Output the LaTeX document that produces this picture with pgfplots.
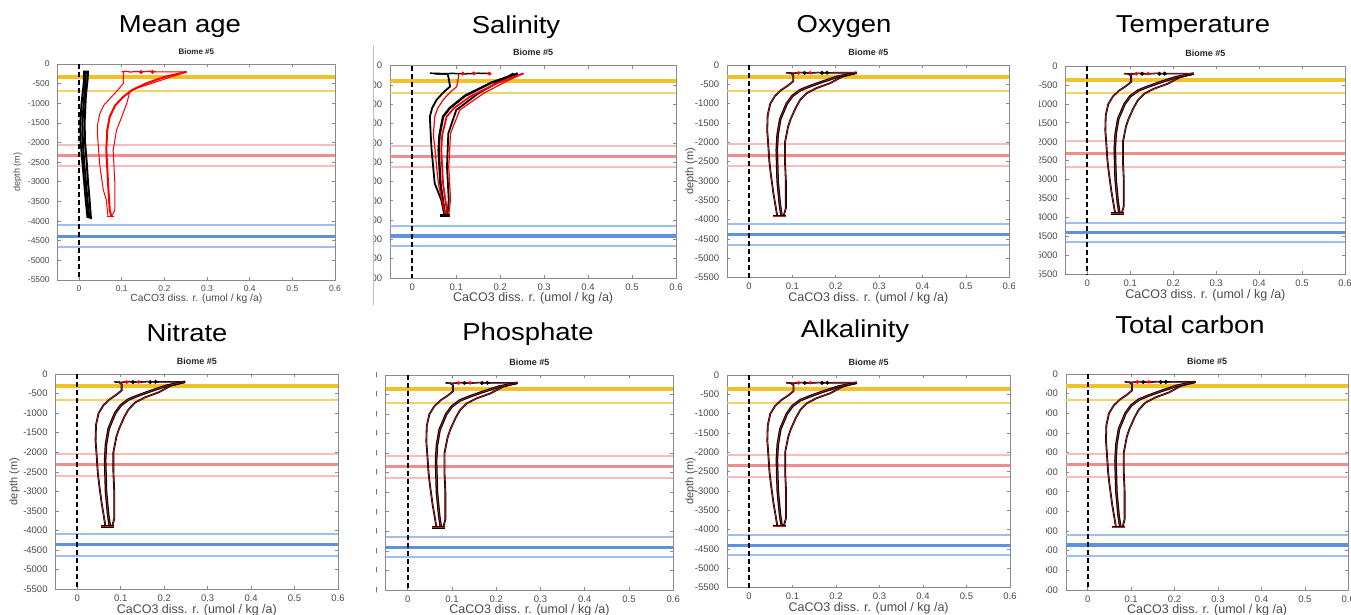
\documentclass[border=0pt]{standalone}
\usepackage{fontspec}
\setmainfont{Liberation Sans}
\newfontfamily\titlefont[FakeStretch=1.12]{Liberation Sans}
\usepackage{pgfplots}
\usepackage{pgfplotstable}
\pgfplotsset{compat=1.18}

\definecolor{axgray}{HTML}{8A8A8A}
\definecolor{txtgray}{HTML}{4A4A4A}
\definecolor{ylw}{HTML}{F0C228}
\definecolor{ylwthin}{HTML}{F3D466}
\definecolor{redthick}{HTML}{F08C8C}
\definecolor{redthin}{HTML}{F7BDBD}
\definecolor{bluthick}{HTML}{5E92DE}
\definecolor{bluthin}{HTML}{9DBEEE}
\definecolor{profred}{HTML}{C81E1E}

% ---- common CaCO3 dissolution profiles (x: rate, y: depth) ----
\pgfplotstableread{
x y
0.095 -200
0.102 -260
0.102 -420
0.090 -530
0.074 -650
0.060 -800
0.049 -1000
0.043 -1300
0.042 -1700
0.044 -2000
0.047 -2500
0.050 -2800
0.056 -3300
0.062 -3700
0.065 -3900
}\profL
\pgfplotstableread{
x y
0.248 -200
0.205 -300
0.170 -430
0.140 -550
0.118 -650
0.100 -800
0.087 -1000
0.072 -1400
0.066 -1800
0.064 -2200
0.066 -3000
0.071 -3600
0.075 -3900
}\profM
\pgfplotstableread{
x y
0.248 -200
0.215 -300
0.187 -470
0.155 -600
0.133 -730
0.118 -900
0.108 -1100
0.096 -1400
0.090 -1600
0.083 -2000
0.083 -2500
0.085 -3000
0.085 -3700
0.080 -3900
}\profR
\pgfplotstableread{
x y
0.085 -200
0.100 -215
0.120 -195
0.140 -210
0.160 -195
0.180 -205
0.200 -200
0.248 -200
}\profTop
\pgfplotstableread{
x y
0.055 -3900
0.085 -3900
}\profBot

% ---- mean age ----
\pgfplotstableread{
x y
0.012 -170
0.011 -500
0.006 -1000
0.003 -1500
0.004 -2000
0.008 -2500
0.012 -3000
0.016 -3500
0.020 -3920
}\ageA
\pgfplotstableread{
x y
0.016 -170
0.015 -500
0.011 -1000
0.008 -1500
0.009 -2000
0.012 -2500
0.016 -3000
0.020 -3500
0.024 -3930
}\ageB
\pgfplotstableread{
x y
0.021 -170
0.020 -400
0.016 -800
0.013 -1500
0.014 -2000
0.018 -2500
0.021 -3000
0.025 -3500
0.028 -3950
}\ageC
\pgfplotstableread{
x y
0.105 -200
0.104 -300
0.104 -490
0.092 -650
0.075 -850
0.058 -1050
0.049 -1256
0.044 -1500
0.043 -1765
0.046 -2200
0.049 -2615
0.057 -3208
0.064 -3463
0.068 -3888
}\ageRL
\pgfplotstableread{
x y
0.252 -200
0.200 -330
0.158 -492
0.125 -660
0.104 -832
0.085 -1050
0.072 -1341
0.066 -1700
0.064 -2190
0.068 -3038
0.072 -3718
0.076 -3888
}\ageRM
\pgfplotstableread{
x y
0.252 -200
0.182 -450
0.135 -620
0.119 -705
0.112 -1001
0.100 -1350
0.088 -1680
0.080 -2190
0.084 -3038
0.084 -3718
0.076 -3888
}\ageRR
\pgfplotstableread{
x y
0.100 -200
0.110 -185
0.120 -205
0.135 -190
0.150 -200
0.165 -185
0.180 -200
0.252 -200
}\ageTop

% ---- salinity ----
\pgfplotstableread{
x y
0.050 -200
0.080 -215
0.082 -280
0.086 -540
0.070 -700
0.055 -889
0.045 -1100
0.040 -1321
0.042 -1800
0.044 -2184
0.051 -3047
0.066 -3479
0.073 -3868
}\salBL
\pgfplotstableread{
x y
0.105 -200
0.105 -300
0.101 -544
0.085 -700
0.070 -889
0.058 -1100
0.051 -1321
0.048 -1800
0.052 -2200
0.056 -2700
0.060 -3100
0.068 -3500
0.075 -3870
}\salRL
\pgfplotstableread{
x y
0.240 -200
0.180 -440
0.120 -780
0.085 -1100
0.070 -1321
0.062 -1800
0.060 -2184
0.064 -3047
0.072 -3690
0.075 -3880
}\salBM
\pgfplotstableread{
x y
0.253 -200
0.192 -456
0.131 -803
0.095 -1100
0.078 -1321
0.068 -1800
0.066 -2184
0.070 -3047
0.078 -3690
0.078 -3880
}\salRM
\pgfplotstableread{
x y
0.230 -200
0.200 -400
0.150 -720
0.100 -1149
0.082 -1753
0.079 -2616
0.083 -3479
0.080 -3868
}\salBR
\pgfplotstableread{
x y
0.253 -200
0.215 -400
0.162 -717
0.108 -1149
0.087 -1753
0.083 -2616
0.087 -3479
0.083 -3868
}\salRR

% horizontal biome boundaries and the zero line
\newcommand\biomelines[8]{%
  \addplot[ylwthin, line width=2pt] coordinates {(-0.05,#2) (0.6,#2)};
  \addplot[ylw, line width=4pt] coordinates {(-0.05,#1) (0.6,#1)};
  \addplot[redthin, line width=2pt] coordinates {(-0.05,#3) (0.6,#3)};
  \addplot[redthick, line width=3pt] coordinates {(-0.05,#4) (0.6,#4)};
  \addplot[redthin, line width=2pt] coordinates {(-0.05,#5) (0.6,#5)};
  \addplot[bluthin, line width=2pt] coordinates {(-0.05,#6) (0.6,#6)};
  \addplot[bluthick, line width=3.5pt] coordinates {(-0.05,#7) (0.6,#7)};
  \addplot[bluthin, line width=2pt] coordinates {(-0.05,#8) (0.6,#8)};
  \addplot[black, line width=2pt, dash pattern=on 5pt off 3pt] coordinates {(0,0) (0,-5500)};
}
% dark profile with red core
\newcommand\prof[2]{%
  \addplot[black, line width=#2] table {#1};
  \addplot[profred, line width=0.6pt] table {#1};
}
\newcommand\commonprofiles{%
  \prof{\profL}{1.8pt}
  \prof{\profR}{1.8pt}
  \prof{\profM}{2.6pt}
  \prof{\profTop}{1.6pt}
  \prof{\profBot}{2.6pt}
  \addplot[only marks, mark=*, mark size=1.6pt, red] coordinates {(0.114,-205) (0.141,-200)};
  \addplot[only marks, mark=*, mark size=1.8pt, black] coordinates {(0.128,-205) (0.168,-205) (0.180,-200)};
}

\pgfplotsset{
  biome/.style={
    scale only axis,
    xmin=-0.05, xmax=0.6, ymin=-5500, ymax=0,
    xtick={0,0.1,0.2,0.3,0.4,0.5,0.6},
    xticklabels={0,0.1,0.2,0.3,0.4,0.5,0.6},
    ytick={-5500,-5000,-4500,-4000,-3500,-3000,-2500,-2000,-1500,-1000,-500,0},
    yticklabels={-5500,-5000,-4500,-4000,-3500,-3000,-2500,-2000,-1500,-1000,-500,0},
    tick align=inside,
    major tick length=3pt,
    axis line style={draw=axgray, line width=0.7pt},
    every tick/.style={draw=axgray, line width=0.7pt},
    tick label style={text=txtgray},
    yticklabel style={xshift=-4.5pt},
    xticklabel style={yshift=-2pt},
    title={Biome \#5},
    title style={at={(axis description cs:0.5,1)}, anchor=south, inner sep=0pt, yshift=3.5pt, text=black!85},
    xlabel={CaCO3 diss. r. (umol / kg /a)},
    ylabel={depth (m)},
    xlabel style={at={(axis description cs:0.5,0)}, anchor=north, inner sep=0pt, yshift=-14.5pt, text=txtgray},
    ylabel style={at={(axis description cs:-0.13,0.5)}, anchor=center, inner sep=0pt, text=txtgray},
  },
  fontbig/.style={
    tick label style={font=\fontsize{9.5}{11}\selectfont},
    xlabel style={font=\fontsize{12.5}{14}\selectfont},
    ylabel style={font=\fontsize{11}{13}\selectfont},
    title style={font=\bfseries\fontsize{9}{10}\selectfont},
  },
  fontsmall/.style={
    tick label style={font=\fontsize{8.5}{10}\selectfont},
    xlabel style={font=\fontsize{10.3}{12}\selectfont, yshift=1pt},
    ylabel style={font=\fontsize{9}{11}\selectfont},
    title style={font=\bfseries\fontsize{8}{9}\selectfont},
  },
}

\newcommand\headline[3]{\node[font=\titlefont\fontsize{24.5}{28}\selectfont, anchor=base] at (#1pt,#2pt) {#3};}

\begin{document}
\begin{tikzpicture}
\useasboundingbox (0pt,0pt) rectangle (1351pt,615pt);
\fill[white] (0pt,0pt) rectangle (1351pt,615pt);

% ---------------- top row ----------------
\headline{180}{582}{Mean age}
\headline{516}{581}{Salinity}
\headline{844}{582}{Oxygen}
\headline{1193}{582}{Temperature}

\begin{scope}
\clip (0pt,300pt) rectangle (372pt,575pt);
\begin{axis}[biome, fontsmall, at={(57.7pt,335pt)}, anchor=south west,
  width=277.3pt, height=216pt, ylabel style={at={(axis description cs:-0.145,0.5)}}]
  \biomelines{-320}{-680}{-2050}{-2330}{-2610}{-4110}{-4390}{-4660}
  \addplot[black, line width=2pt] table {\ageA};
  \addplot[black, line width=2pt] table {\ageB};
  \addplot[black, line width=2pt] table {\ageC};
  \addplot[red, line width=1pt] table {\ageRL};
  \addplot[red, line width=1pt] table {\ageRR};
  \addplot[red, line width=2pt] table {\ageRM};
  \addplot[red, line width=1.2pt] table {\ageTop};
  \addplot[red, line width=1.5pt] coordinates {(0.065,-3888) (0.082,-3888)};
  \addplot[only marks, mark=*, mark size=1.8pt, red] coordinates {(0.145,-205) (0.172,-200)};
\end{axis}
\end{scope}
\draw[black!25, line width=0.8pt] (373pt,310pt) -- (373pt,570pt);

\begin{scope}
\clip (374.5pt,300pt) rectangle (684pt,575pt);
\begin{axis}[biome, fontbig, at={(390.3pt,337pt)}, anchor=south west,
  width=285.7pt, height=212.3pt]
  \biomelines{-390}{-715}{-2070}{-2350}{-2630}{-4145}{-4410}{-4660}
  \addplot[black, line width=1.8pt] table {\salBL};
  \addplot[black, line width=1.8pt] table {\salBR};
  \addplot[black, line width=2.4pt] table {\salBM};
  \addplot[red, line width=1.2pt] table {\salRL};
  \addplot[red, line width=1.2pt] table {\salRR};
  \addplot[red, line width=1.8pt] table {\salRM};
  \addplot[black, line width=1.5pt] coordinates {(0.04,-190) (0.06,-215) (0.09,-200) (0.12,-210) (0.15,-195) (0.18,-205)};
  \addplot[black, line width=2.4pt] coordinates {(0.062,-3880) (0.085,-3880)};
  \addplot[only marks, mark=*, mark size=1.8pt, red] coordinates {(0.115,-205) (0.140,-200) (0.175,-205)};
\end{axis}
\end{scope}

\begin{scope}
\clip (684pt,300pt) rectangle (1014pt,575pt);
\begin{axis}[biome, fontbig, at={(727.3pt,337.3pt)}, anchor=south west,
  width=282pt, height=212.7pt]
  \biomelines{-320}{-670}{-2050}{-2330}{-2610}{-4110}{-4380}{-4650}
  \commonprofiles
\end{axis}
\end{scope}

\begin{scope}
\clip (1039pt,300pt) rectangle (1351pt,575pt);
\begin{axis}[biome, fontbig, at={(1065.8pt,340.7pt)}, anchor=south west,
  width=279.2pt, height=208.3pt]
  \biomelines{-370}{-720}{-1980}{-2320}{-2670}{-4150}{-4400}{-4655}
  \commonprofiles
\end{axis}
\end{scope}

% ---------------- bottom row ----------------
\headline{187}{273}{Nitrate}
\headline{528}{274}{Phosphate}
\headline{855}{277}{Alkalinity}
\headline{1190}{281}{Total carbon}

\begin{scope}
\clip (0pt,0pt) rectangle (347pt,262pt);
\begin{axis}[biome, fontbig, at={(55.6pt,25.7pt)}, anchor=south west,
  width=282.4pt, height=215.3pt, ylabel style={at={(axis description cs:-0.145,0.5)}}]
  \biomelines{-306}{-664}{-2036}{-2307}{-2605}{-4095}{-4351}{-4640}
  \commonprofiles
\end{axis}
\end{scope}

\begin{scope}
\clip (376pt,0pt) rectangle (684pt,262pt);
\begin{axis}[biome, fontbig, at={(385.6pt,25pt)}, anchor=south west,
  width=287.7pt, height=215pt]
  \biomelines{-367}{-708}{-2064}{-2337}{-2627}{-4153}{-4409}{-4647}
  \commonprofiles
\end{axis}
\end{scope}

\begin{scope}
\clip (684pt,0pt) rectangle (1022pt,262pt);
\begin{axis}[biome, fontbig, at={(727.3pt,27.3pt)}, anchor=south west,
  width=282.7pt, height=212.7pt]
  \biomelines{-370}{-716}{-2069}{-2353}{-2646}{-4137}{-4405}{-4655}
  \commonprofiles
\end{axis}
\end{scope}

\begin{scope}
\clip (1046pt,0pt) rectangle (1351pt,262pt);
\begin{axis}[biome, fontbig, at={(1066pt,25pt)}, anchor=south west,
  width=282.3pt, height=216pt]
  \biomelines{-306}{-662}{-2045}{-2317}{-2614}{-4100}{-4355}{-4635}
  \commonprofiles
\end{axis}
\end{scope}
\end{tikzpicture}
\end{document}
